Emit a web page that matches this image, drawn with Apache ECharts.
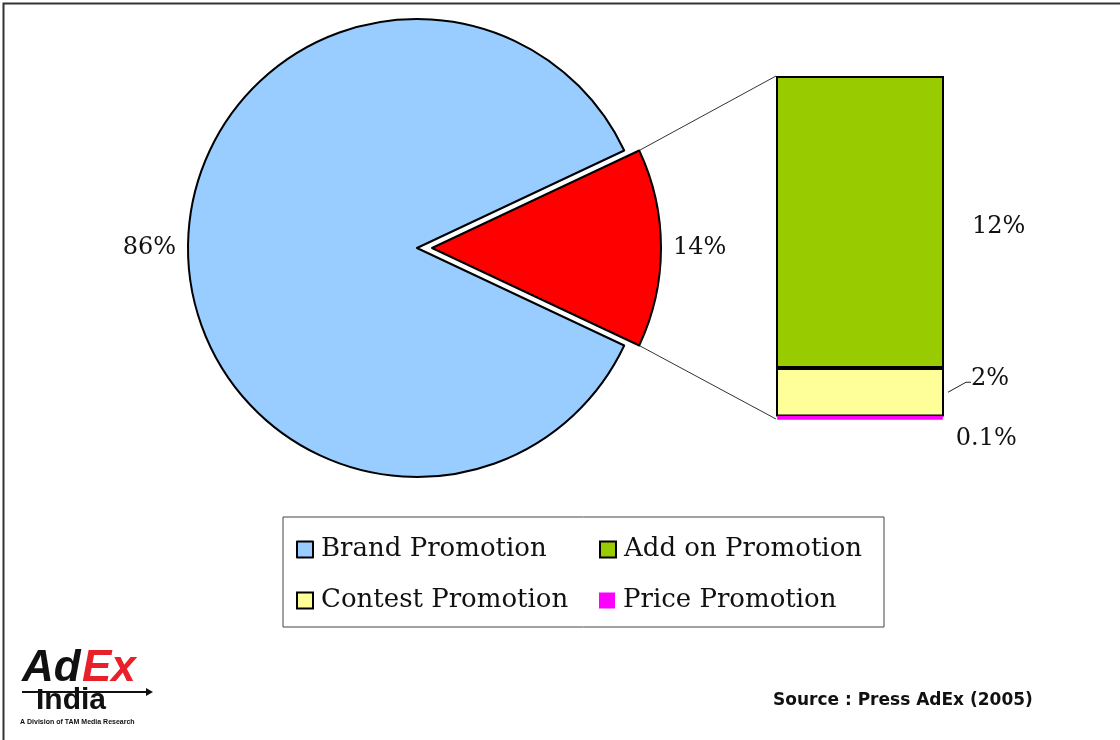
<!DOCTYPE html>
<html>
<head>
<meta charset="utf-8">
<title>Promotion mix</title>
<script src="https://cdn.jsdelivr.net/npm/echarts@6/dist/echarts.min.js"></script>
<style>
  html, body { margin: 0; padding: 0; background: #fff; }
  #chart { width: 1120px; height: 740px; }
</style>
</head>
<body>
<div id="chart"></div>
<script>
// Share of press promotions (%)
const pieNames = ['Brand Promotion', 'Other Promotions'];
const pieValues = [86, 14];
// Breakdown of the 14% non-brand slice
const barCategory = ['Other Promotions'];
const barNames = ['Add on Promotion', 'Contest Promotion', 'Price Promotion'];
const barValues = [12, 2, 0.1];
const legendNames = ['Brand Promotion', 'Add on Promotion', 'Contest Promotion', 'Price Promotion'];

const COLORS = {
  'Brand Promotion': '#99CCFF',
  'Other Promotions': '#FF0000',
  'Add on Promotion': '#99CC00',
  'Contest Promotion': '#FFFF99',
  'Price Promotion': '#FF00FF'
};

const SERIF = 'DejaVu Serif';
const PIE_CENTER = [417, 248];
const PIE_RADIUS = 229;
const PIE_OFFSET = 15;
const GRID = { left: 776, right: 176, top: 76, bottom: 321 };
const CONTEST_SHIFT = { dx: 22, dy: -13 };

const barTotal = barValues.reduce((a, b) => a + b, 0);
const otherShare = pieValues[1] / pieValues.reduce((a, b) => a + b, 0);
const halfAngle = otherShare * 180; // degrees, the exploded slice is centred on 0deg

const chart = echarts.init(document.getElementById('chart'), null, { renderer: 'canvas' });

// bar stack: price at the bottom, contest, then add-on on top
const stackOrder = [2, 1, 0];
const barLabel = {
  'Add on Promotion': { show: true, position: 'right', distance: 28, offset: [0, 5] },
  'Contest Promotion': { show: true, position: 'right', distance: 5 },
  'Price Promotion': { show: true, position: 'right', distance: 11, offset: [0, 21] }
};

const barSeries = stackOrder.map(i => {
  const name = barNames[i];
  const isPrice = name === 'Price Promotion';
  const s = {
    type: 'bar',
    name: name,
    stack: 'mix',
    barWidth: '100%',
    data: [barValues[i]],
    silent: true,
    z: isPrice ? 3 : 2,
    itemStyle: {
      color: COLORS[name],
      borderColor: isPrice ? COLORS[name] : '#000',
      borderWidth: isPrice ? 4 : 2
    },
    label: Object.assign({
      formatter: '{c}%',
      fontFamily: SERIF,
      fontSize: 24,
      color: '#111'
    }, barLabel[name])
  };
  if (name === 'Contest Promotion') {
    s.labelLayout = CONTEST_SHIFT;
  }
  return s;
});

const option = {
  animation: false,
  backgroundColor: '#fff',
  legend: {
    data: legendNames.map(n => ({
      name: n,
      itemStyle: n === 'Price Promotion'
        ? { color: COLORS[n], borderWidth: 0 }
        : { color: COLORS[n], borderColor: '#000', borderWidth: 2 }
    })),
    selectedMode: false,
    icon: 'rect',
    orient: 'horizontal',
    left: 283,
    top: 517,
    width: 590,
    padding: [17, 2, 11, 13],
    itemWidth: 16,
    itemHeight: 16,
    itemGap: 20,
    borderColor: '#444',
    borderWidth: 1,
    textStyle: {
      fontFamily: SERIF,
      fontSize: 26,
      color: '#111',
      width: 258,
      lineHeight: 31,
      padding: [0, 0, 0, 3]
    }
  },
  grid: GRID,
  xAxis: { type: 'category', data: barCategory, show: false },
  yAxis: { type: 'value', min: 0, max: barTotal, show: false },
  series: [
    {
      type: 'pie',
      name: 'Promotions',
      center: PIE_CENTER,
      radius: PIE_RADIUS,
      startAngle: -halfAngle,
      clockwise: true,
      selectedMode: 'single',
      selectedOffset: PIE_OFFSET,
      emphasis: { disabled: true },
      silent: true,
      itemStyle: { borderColor: '#000', borderWidth: 2 },
      label: {
        show: true,
        position: 'outside',
        formatter: '{c}%',
        fontFamily: SERIF,
        fontSize: 24,
        color: '#111'
      },
      labelLine: { show: false, length: 4, length2: 3 },
      data: pieNames.map((n, i) => ({
        name: n,
        value: pieValues[i],
        selected: n === 'Other Promotions',
        itemStyle: { color: COLORS[n] }
      }))
    }
  ].concat(barSeries)
};

chart.setOption(option);

// connector lines from the exploded slice to the breakdown bar, label leader, frame, logo and source
function decorate() {
  const rad = halfAngle * Math.PI / 180;
  const cx = PIE_CENTER[0] + PIE_OFFSET;
  const cy = PIE_CENTER[1];
  const topCorner = [cx + PIE_RADIUS * Math.cos(rad), cy - PIE_RADIUS * Math.sin(rad)];
  const botCorner = [cx + PIE_RADIUS * Math.cos(rad), cy + PIE_RADIUS * Math.sin(rad)];
  const barTopY = chart.convertToPixel({ yAxisIndex: 0 }, barTotal);
  const barBotY = chart.convertToPixel({ yAxisIndex: 0 }, 0);
  const barLeftX = GRID.left;
  const barRightX = 1120 - GRID.right;

  // leader for the contest label: from the bar edge up to the moved label
  const contestMid = chart.convertToPixel({ yAxisIndex: 0 }, barValues[2] + barValues[1] / 2);
  const leader = [
    [barRightX + 4, contestMid],
    [barRightX + 4 + CONTEST_SHIFT.dx - 4, contestMid + CONTEST_SHIFT.dy + 3],
    [barRightX + 4 + CONTEST_SHIFT.dx + 1, contestMid + CONTEST_SHIFT.dy + 3]
  ];

  const lineStyle = { stroke: '#333', lineWidth: 1 };
  chart.setOption({
    graphic: [
      { type: 'line', shape: { x1: topCorner[0], y1: topCorner[1], x2: barLeftX, y2: barTopY }, style: lineStyle, silent: true },
      { type: 'line', shape: { x1: botCorner[0], y1: botCorner[1], x2: barLeftX, y2: barBotY }, style: lineStyle, silent: true },
      { type: 'polyline', shape: { points: leader }, style: { stroke: '#222', lineWidth: 1, fill: null }, silent: true },
      // frame: top and left edges
      { type: 'polyline', shape: { points: [[3.5, 740], [3.5, 3.5], [1120, 3.5]] }, style: { stroke: '#333', lineWidth: 2, fill: null }, silent: true },
      // source note
      { type: 'text', left: 773, top: 692, style: { text: 'Source : Press AdEx (2005)', fontFamily: 'DejaVu Sans', fontWeight: 'bold', fontSize: 17, fill: '#111' }, silent: true },
      // AdEx India logo
      { type: 'text', left: 22, top: 647, style: { text: 'Ad', fontFamily: 'Liberation Sans', fontStyle: 'italic', fontWeight: 'bold', fontSize: 44, fill: '#111' }, silent: true },
      { type: 'text', left: 82, top: 647, style: { text: 'Ex', fontFamily: 'Liberation Sans', fontStyle: 'italic', fontWeight: 'bold', fontSize: 44, fill: '#E8202A' }, silent: true },
      { type: 'line', shape: { x1: 22, y1: 692, x2: 148, y2: 692 }, style: { stroke: '#111', lineWidth: 2 }, silent: true },
      { type: 'polygon', shape: { points: [[146, 688], [153, 692], [146, 696]] }, style: { fill: '#111' }, silent: true },
      { type: 'text', left: 36, top: 686, style: { text: 'India', fontFamily: 'Liberation Sans', fontWeight: 'bold', fontSize: 30, fill: '#111' }, silent: true },
      { type: 'text', left: 20, top: 719, style: { text: 'A Division of TAM Media Research', fontFamily: 'Liberation Sans', fontWeight: 'bold', fontSize: 7, fill: '#111' }, silent: true }
    ]
  });
}
decorate();
</script>
</body>
</html>
